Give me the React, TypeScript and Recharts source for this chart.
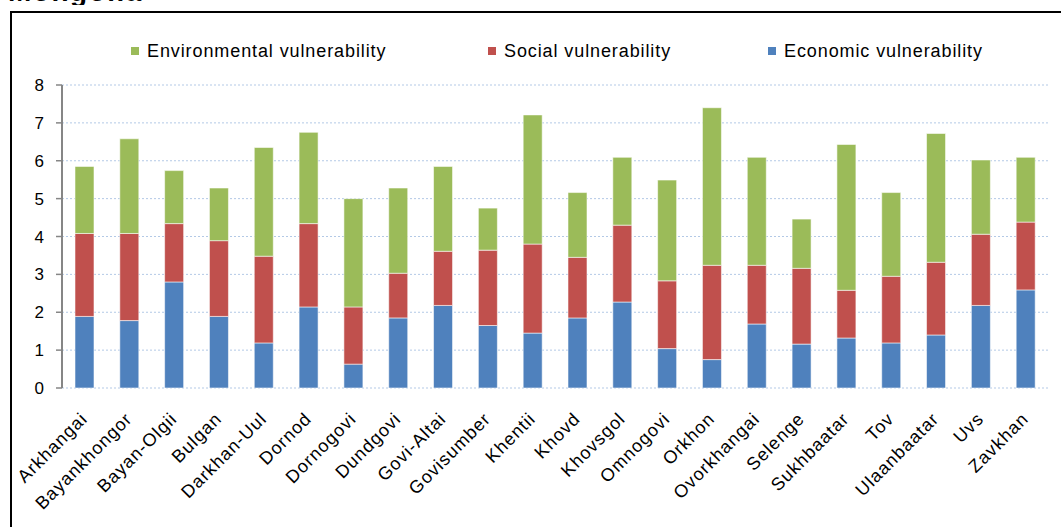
import React from "react";
import { BarChart, Bar, XAxis, YAxis, CartesianGrid, Legend } from "recharts";

const provinces = [
  "Arkhangai", "Bayankhongor", "Bayan-Olgii", "Bulgan", "Darkhan-Uul", "Dornod",
  "Dornogovi", "Dundgovi", "Govi-Altai", "Govisumber", "Khentii", "Khovd",
  "Khovsgol", "Omnogovi", "Orkhon", "Ovorkhangai", "Selenge", "Sukhbaatar",
  "Tov", "Ulaanbaatar", "Uvs", "Zavkhan",
];

const economic = [
  1.89, 1.78, 2.80, 1.89, 1.19, 2.14, 0.63, 1.85, 2.18, 1.65, 1.45,
  1.85, 2.27, 1.04, 0.75, 1.69, 1.16, 1.32, 1.19, 1.40, 2.18, 2.59,
];
const social = [
  2.19, 2.30, 1.54, 2.00, 2.29, 2.20, 1.51, 1.18, 1.43, 1.99, 2.35,
  1.60, 2.03, 1.79, 2.49, 1.55, 2.00, 1.26, 1.76, 1.92, 1.88, 1.79,
];
const environmental = [
  1.77, 2.50, 1.40, 1.39, 2.87, 2.41, 2.86, 2.25, 2.24, 1.11, 3.41,
  1.71, 1.79, 2.66, 4.16, 2.85, 1.30, 3.85, 2.21, 3.40, 1.96, 1.71,
];

const yTicks = [0, 1, 2, 3, 4, 5, 6, 7, 8];
const seriesNames = ["Environmental vulnerability", "Social vulnerability", "Economic vulnerability"];

const COLORS = { econ: "#4F81BD", social: "#C0504D", env: "#9BBB59" };
const legendColors = [COLORS.env, COLORS.social, COLORS.econ];
const legendLeft = [131, 488, 768];

const data = provinces.map((name, i) => ({
  name,
  economic: economic[i],
  social: social[i],
  environmental: environmental[i],
}));

const boundaryTicks = provinces.map((_, i) => i).concat([provinces.length]);

const FONT = "'Liberation Sans', Arial, sans-serif";
const AXIS = "#868686";

const XTick = (props: any) => {
  const { x, y, payload } = props;
  const bx = x + 4;
  const by = y + 32;
  return (
    <text
      x={bx}
      y={by}
      transform={`rotate(-45 ${bx} ${by})`}
      textAnchor="end"
      fontSize={18}
      letterSpacing={1}
      fontFamily={FONT}
      fill="#000"
    >
      {payload.value}
    </text>
  );
};

const renderLegend = () => (
  <div style={{ position: "relative", width: 1061, height: 47 }}>
    {seriesNames.map((n, i) => (
      <div
        key={n}
        style={{
          position: "absolute",
          left: legendLeft[i],
          top: 0,
          height: 26,
          display: "flex",
          alignItems: "center",
          fontFamily: FONT,
          fontSize: 18,
          letterSpacing: 0.9,
          color: "#000",
          whiteSpace: "nowrap",
        }}
      >
        <span style={{ display: "inline-block", width: 8, height: 8, background: legendColors[i], marginRight: 8 }} />
        {n}
      </div>
    ))}
  </div>
);

export default function App() {
  return (
    <div
      style={{
        position: "fixed",
        left: 0,
        top: 0,
        width: 1061,
        height: 527,
        overflow: "hidden",
        background: "#fff",
        fontFamily: FONT,
      }}
    >
      <div style={{ position: "absolute", left: 0, top: 0, width: 300, height: 5, overflow: "hidden" }}>
        <div
          style={{
            position: "absolute",
            left: 8,
            top: -24,
            fontSize: 28,
            fontWeight: "bold",
            letterSpacing: 1.5,
            lineHeight: "32px",
            whiteSpace: "nowrap",
            color: "#000",
          }}
        >
          Mongolia
        </div>
      </div>
      <div
        style={{
          position: "absolute",
          left: 10,
          top: 11,
          width: 1100,
          height: 600,
          borderLeft: "2px solid #000",
          borderTop: "2px solid #000",
          boxSizing: "border-box",
        }}
      />
      <div style={{ position: "absolute", left: 0, top: 0 }}>
        <BarChart
          width={1061}
          height={527}
          data={data}
          margin={{ top: 38, right: 13, bottom: 0, left: 22 }}
          barCategoryGap="29%"
        >
          <Legend
            verticalAlign="top"
            content={renderLegend}
            wrapperStyle={{ left: 0, top: 38, width: 1061 }}
          />
          <XAxis
            xAxisId="t"
            type="number"
            domain={[0, provinces.length]}
            allowDataOverflow
            ticks={boundaryTicks}
            tickFormatter={() => ""}
            height={0}
            tickSize={5}
            axisLine={{ stroke: AXIS, strokeWidth: 2 }}
            tickLine={{ stroke: AXIS, strokeWidth: 1.5 }}
          />
          <XAxis
            xAxisId="c"
            dataKey="name"
            interval={0}
            axisLine={false}
            tickLine={false}
            tickSize={0}
            tickMargin={0}
            height={139}
            tick={<XTick />}
          />
          <YAxis
            domain={[0, 8]}
            ticks={yTicks}
            interval={0}
            width={40}
            tickSize={6}
            tickMargin={12}
            axisLine={{ stroke: AXIS, strokeWidth: 2 }}
            tickLine={{ stroke: AXIS, strokeWidth: 1.5 }}
            tick={{ fontSize: 17, fill: "#000", fontFamily: FONT }}
          />
          <CartesianGrid
            xAxisId="c"
            vertical={false}
            stroke="#B3C9E6"
            strokeDasharray="2 2"
            strokeWidth={1}
          />
          <Bar xAxisId="c" dataKey="economic" stackId="a" fill={COLORS.econ} stroke="rgba(255,255,255,0.55)" strokeWidth={1} isAnimationActive={false} />
          <Bar xAxisId="c" dataKey="social" stackId="a" fill={COLORS.social} stroke="rgba(255,255,255,0.55)" strokeWidth={1} isAnimationActive={false} />
          <Bar xAxisId="c" dataKey="environmental" stackId="a" fill={COLORS.env} stroke="rgba(255,255,255,0.55)" strokeWidth={1} isAnimationActive={false} />
        </BarChart>
      </div>
    </div>
  );
}
